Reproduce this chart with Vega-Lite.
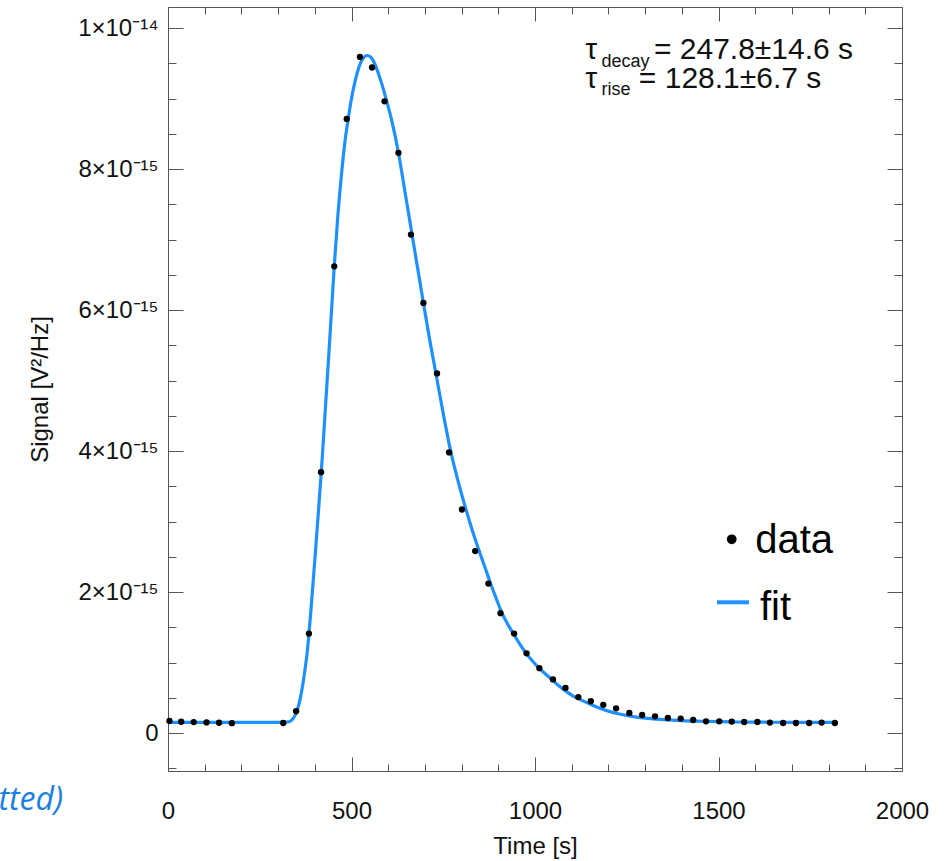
{
  "$schema": "https://vega.github.io/schema/vega-lite/v6.json",
  "width": 734,
  "height": 764,
  "autosize": {"type": "none"},
  "padding": {"left": 168, "top": 7, "right": 46, "bottom": 90},
  "background": "white",
  "config": {"view": {"stroke": "#555", "strokeWidth": 1}},
  "datasets": {
    "obs": [
      {"time": 4, "signal": 1.7e-16}, {"time": 36, "signal": 1.6e-16}, {"time": 70, "signal": 1.55e-16},
      {"time": 105, "signal": 1.5e-16}, {"time": 139, "signal": 1.45e-16}, {"time": 174, "signal": 1.4e-16},
      {"time": 314, "signal": 1.42e-16}, {"time": 349, "signal": 3.1e-16}, {"time": 384, "signal": 1.41e-15},
      {"time": 417, "signal": 3.70e-15}, {"time": 453, "signal": 6.62e-15}, {"time": 487, "signal": 8.71e-15},
      {"time": 523, "signal": 9.59e-15}, {"time": 556, "signal": 9.44e-15}, {"time": 590, "signal": 8.96e-15},
      {"time": 628, "signal": 8.23e-15}, {"time": 662, "signal": 7.07e-15}, {"time": 696, "signal": 6.10e-15},
      {"time": 733, "signal": 5.10e-15}, {"time": 766, "signal": 3.98e-15}, {"time": 801, "signal": 3.17e-15},
      {"time": 837, "signal": 2.58e-15}, {"time": 873, "signal": 2.12e-15}, {"time": 906, "signal": 1.70e-15},
      {"time": 943, "signal": 1.41e-15}, {"time": 977, "signal": 1.13e-15}, {"time": 1012, "signal": 9.2e-16},
      {"time": 1049, "signal": 7.6e-16}, {"time": 1083, "signal": 6.4e-16}, {"time": 1118, "signal": 5.1e-16},
      {"time": 1152, "signal": 4.5e-16}, {"time": 1186, "signal": 4.0e-16}, {"time": 1221, "signal": 3.5e-16},
      {"time": 1257, "signal": 2.84e-16}, {"time": 1292, "signal": 2.55e-16}, {"time": 1327, "signal": 2.37e-16},
      {"time": 1362, "signal": 2.13e-16}, {"time": 1397, "signal": 2.04e-16}, {"time": 1431, "signal": 1.84e-16},
      {"time": 1466, "signal": 1.66e-16}, {"time": 1502, "signal": 1.66e-16}, {"time": 1536, "signal": 1.62e-16},
      {"time": 1570, "signal": 1.56e-16}, {"time": 1606, "signal": 1.56e-16}, {"time": 1640, "signal": 1.48e-16},
      {"time": 1676, "signal": 1.42e-16}, {"time": 1711, "signal": 1.42e-16}, {"time": 1747, "signal": 1.42e-16},
      {"time": 1781, "signal": 1.48e-16}, {"time": 1817, "signal": 1.42e-16}
    ],
    "fit": [
      {"time": 0, "signal": 1.52e-16}, {"time": 100, "signal": 1.52e-16}, {"time": 200, "signal": 1.52e-16},
      {"time": 300, "signal": 1.52e-16}, {"time": 320, "signal": 1.54e-16}, {"time": 330, "signal": 1.6e-16},
      {"time": 340, "signal": 2.0e-16}, {"time": 350, "signal": 2.9e-16}, {"time": 360, "signal": 4.8e-16},
      {"time": 370, "signal": 7.8e-16}, {"time": 380, "signal": 1.18e-15}, {"time": 390, "signal": 1.78e-15},
      {"time": 400, "signal": 2.45e-15}, {"time": 410, "signal": 3.15e-15}, {"time": 420, "signal": 3.88e-15},
      {"time": 430, "signal": 4.70e-15}, {"time": 440, "signal": 5.52e-15}, {"time": 453, "signal": 6.62e-15},
      {"time": 463, "signal": 7.35e-15}, {"time": 473, "signal": 7.94e-15}, {"time": 482, "signal": 8.38e-15},
      {"time": 491, "signal": 8.71e-15}, {"time": 500, "signal": 9.00e-15}, {"time": 510, "signal": 9.25e-15},
      {"time": 520, "signal": 9.44e-15}, {"time": 530, "signal": 9.56e-15}, {"time": 543, "signal": 9.61e-15},
      {"time": 552, "signal": 9.59e-15}, {"time": 560, "signal": 9.53e-15}, {"time": 580, "signal": 9.25e-15},
      {"time": 596, "signal": 8.96e-15}, {"time": 610, "signal": 8.68e-15}, {"time": 628, "signal": 8.23e-15},
      {"time": 645, "signal": 7.70e-15}, {"time": 665, "signal": 7.07e-15}, {"time": 680, "signal": 6.60e-15},
      {"time": 696, "signal": 6.10e-15}, {"time": 713, "signal": 5.58e-15}, {"time": 730, "signal": 5.10e-15},
      {"time": 750, "signal": 4.53e-15}, {"time": 771, "signal": 3.98e-15}, {"time": 790, "signal": 3.58e-15},
      {"time": 812, "signal": 3.17e-15}, {"time": 830, "signal": 2.86e-15}, {"time": 848, "signal": 2.58e-15},
      {"time": 865, "signal": 2.33e-15}, {"time": 879, "signal": 2.12e-15}, {"time": 895, "signal": 1.90e-15},
      {"time": 910, "signal": 1.70e-15}, {"time": 925, "signal": 1.55e-15}, {"time": 941, "signal": 1.41e-15},
      {"time": 960, "signal": 1.25e-15}, {"time": 976, "signal": 1.13e-15}, {"time": 995, "signal": 1.01e-15},
      {"time": 1011, "signal": 9.2e-16}, {"time": 1030, "signal": 8.3e-16}, {"time": 1046, "signal": 7.6e-16},
      {"time": 1065, "signal": 6.7e-16}, {"time": 1085, "signal": 5.9e-16}, {"time": 1105, "signal": 5.2e-16},
      {"time": 1125, "signal": 4.7e-16}, {"time": 1150, "signal": 4.1e-16}, {"time": 1177, "signal": 3.5e-16},
      {"time": 1200, "signal": 3.1e-16}, {"time": 1230, "signal": 2.7e-16}, {"time": 1260, "signal": 2.4e-16},
      {"time": 1300, "signal": 2.1e-16}, {"time": 1350, "signal": 1.9e-16}, {"time": 1400, "signal": 1.76e-16},
      {"time": 1450, "signal": 1.67e-16}, {"time": 1500, "signal": 1.6e-16}, {"time": 1550, "signal": 1.56e-16},
      {"time": 1600, "signal": 1.54e-16}, {"time": 1700, "signal": 1.52e-16}, {"time": 1818, "signal": 1.5e-16}
    ]
  },
  "resolve": {"axis": {"x": "independent", "y": "independent"}},
  "layer": [
    {
      "data": {"name": "fit"},
      "mark": {"type": "line", "color": "#1E90FF", "strokeWidth": 3.2, "interpolate": "monotone"},
      "encoding": {
        "x": {"field": "time", "type": "quantitative", "scale": {"domain": [0, 2000], "nice": false, "zero": false},
          "axis": {"orient": "top", "values": [0,100,200,300,400,500,600,700,800,900,1000,1100,1200,1300,1400,1500,1600,1700,1800,1900,2000],
            "labels": false, "title": null, "domain": false, "grid": false, "tickColor": "#555", "tickWidth": 1,
            "tickSize": {"condition": {"test": "datum.value % 500 == 0", "value": -14}, "value": -7}}},
        "y": {"field": "signal", "type": "quantitative", "scale": {"domain": [-5.39e-16, 1.0298e-14], "nice": false, "zero": false},
          "axis": {"orient": "right", "values": [-5e-16,0,5e-16,1e-15,1.5e-15,2e-15,2.5e-15,3e-15,3.5e-15,4e-15,4.5e-15,5e-15,5.5e-15,6e-15,6.5e-15,7e-15,7.5e-15,8e-15,8.5e-15,9e-15,9.5e-15,1e-14],
            "labels": false, "title": null, "domain": false, "grid": false, "tickColor": "#555", "tickWidth": 1,
            "tickSize": {"condition": {"test": "round(datum.value*2e15) % 4 == 0", "value": -15}, "value": -8}}}
      }
    },
    {
      "data": {"name": "obs"},
      "mark": {"type": "circle", "color": "black", "opacity": 1, "size": 40},
      "encoding": {
        "x": {"field": "time", "type": "quantitative", "scale": {"domain": [0, 2000], "nice": false, "zero": false},
          "axis": {"orient": "bottom", "values": [0,100,200,300,400,500,600,700,800,900,1000,1100,1200,1300,1400,1500,1600,1700,1800,1900,2000],
            "labelExpr": "datum.value % 500 == 0 ? '' + datum.value : ''",
            "labelFlush": false, "labelOverlap": false, "labelFont": "Liberation Sans", "labelFontSize": 24, "labelColor": "#111",
            "labelPadding": 42, "domain": false, "grid": false, "tickColor": "#555", "tickWidth": 1,
            "tickSize": {"condition": {"test": "datum.value % 500 == 0", "value": -14}, "value": -7},
            "title": "Time [s]", "titleFont": "Liberation Sans", "titleFontSize": 24, "titleFontWeight": "normal", "titleColor": "#111", "titlePadding": 4}},
        "y": {"field": "signal", "type": "quantitative", "scale": {"domain": [-5.39e-16, 1.0298e-14], "nice": false, "zero": false},
          "axis": {"orient": "left", "values": [-5e-16,0,5e-16,1e-15,1.5e-15,2e-15,2.5e-15,3e-15,3.5e-15,4e-15,4.5e-15,5e-15,5.5e-15,6e-15,6.5e-15,7e-15,7.5e-15,8e-15,8.5e-15,9e-15,9.5e-15,1e-14],
            "labelExpr": "round(datum.value*2e15) % 4 != 0 ? '' : (round(datum.value*2e15) == 0 ? '0' : (round(datum.value*2e15) == 20 ? '1×10⁻¹⁴' : round(datum.value*1e15) + '×10⁻¹⁵'))",
            "labelFlush": false, "labelOverlap": false, "labelFont": "Liberation Sans", "labelFontSize": 24, "labelColor": "#111",
            "labelPadding": 25, "domain": false, "grid": false, "tickColor": "#555", "tickWidth": 1,
            "tickSize": {"condition": {"test": "round(datum.value*2e15) % 4 == 0", "value": -15}, "value": -8},
            "title": "Signal [V²/Hz]", "titleFont": "Liberation Sans", "titleFontSize": 24, "titleFontWeight": "normal", "titleColor": "#111", "titlePadding": 25}}
      }
    },
    {
      "data": {"values": [{}]},
      "mark": {"type": "text", "text": "τ", "font": "Liberation Sans", "fontSize": 30, "align": "left", "baseline": "alphabetic", "color": "#111"},
      "encoding": {"x": {"datum": 1137, "type": "quantitative", "axis": null}, "y": {"datum": 9.556e-15, "type": "quantitative", "axis": null}}
    },
    {
      "data": {"values": [{}]},
      "mark": {"type": "text", "text": "decay", "font": "Liberation Sans", "fontSize": 18, "align": "left", "baseline": "alphabetic", "color": "#111"},
      "encoding": {"x": {"datum": 1181, "type": "quantitative", "axis": null}, "y": {"datum": 9.443e-15, "type": "quantitative", "axis": null}}
    },
    {
      "data": {"values": [{}]},
      "mark": {"type": "text", "text": "= 247.8±14.6 s", "font": "Liberation Sans", "fontSize": 30, "align": "left", "baseline": "alphabetic", "color": "#111"},
      "encoding": {"x": {"datum": 1324, "type": "quantitative", "axis": null}, "y": {"datum": 9.556e-15, "type": "quantitative", "axis": null}}
    },
    {
      "data": {"values": [{}]},
      "mark": {"type": "text", "text": "τ", "font": "Liberation Sans", "fontSize": 30, "align": "left", "baseline": "alphabetic", "color": "#111"},
      "encoding": {"x": {"datum": 1137, "type": "quantitative", "axis": null}, "y": {"datum": 9.155e-15, "type": "quantitative", "axis": null}}
    },
    {
      "data": {"values": [{}]},
      "mark": {"type": "text", "text": "rise", "font": "Liberation Sans", "fontSize": 18, "align": "left", "baseline": "alphabetic", "color": "#111"},
      "encoding": {"x": {"datum": 1181, "type": "quantitative", "axis": null}, "y": {"datum": 9.055e-15, "type": "quantitative", "axis": null}}
    },
    {
      "data": {"values": [{}]},
      "mark": {"type": "text", "text": "= 128.1±6.7 s", "font": "Liberation Sans", "fontSize": 30, "align": "left", "baseline": "alphabetic", "color": "#111"},
      "encoding": {"x": {"datum": 1283, "type": "quantitative", "axis": null}, "y": {"datum": 9.155e-15, "type": "quantitative", "axis": null}}
    },
    {
      "data": {"values": [{}]},
      "mark": {"type": "circle", "color": "black", "opacity": 1, "size": 95},
      "encoding": {"x": {"datum": 1536, "type": "quantitative", "axis": null}, "y": {"datum": 2.748e-15, "type": "quantitative", "axis": null}}
    },
    {
      "data": {"values": [{}]},
      "mark": {"type": "text", "text": "data", "font": "Liberation Sans", "fontSize": 40, "align": "left", "baseline": "alphabetic", "color": "black"},
      "encoding": {"x": {"datum": 1600, "type": "quantitative", "axis": null}, "y": {"datum": 2.549e-15, "type": "quantitative", "axis": null}}
    },
    {
      "data": {"values": [{}]},
      "mark": {"type": "rule", "color": "#1E90FF", "strokeWidth": 4},
      "encoding": {"x": {"datum": 1496, "type": "quantitative", "axis": null}, "x2": {"datum": 1583}, "y": {"datum": 1.854e-15, "type": "quantitative", "axis": null}}
    },
    {
      "data": {"values": [{}]},
      "mark": {"type": "text", "text": "fit", "font": "Liberation Sans", "fontSize": 40, "align": "left", "baseline": "alphabetic", "color": "black"},
      "encoding": {"x": {"datum": 1613, "type": "quantitative", "axis": null}, "y": {"datum": 1.599e-15, "type": "quantitative", "axis": null}}
    },
    {
      "data": {"values": [{}]},
      "mark": {"type": "text", "text": "(fitted)", "font": "Open Sans", "fontStyle": "italic", "fontSize": 32, "align": "right", "baseline": "alphabetic", "color": "#1A7FE0"},
      "encoding": {"x": {"datum": -286, "type": "quantitative", "axis": null}, "y": {"datum": -1.095e-15, "type": "quantitative", "axis": null}}
    }
  ]
}
